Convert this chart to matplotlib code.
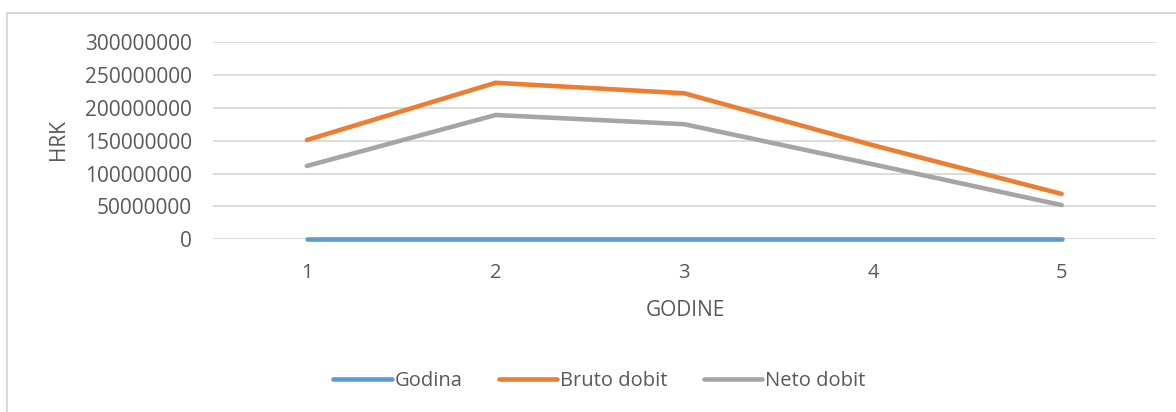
import matplotlib.pyplot as plt
from matplotlib.patches import Rectangle

# data
godine = [1, 2, 3, 4, 5]
godina = [1, 2, 3, 4, 5]
bruto_dobit = [151000000, 238000000, 222000000, 143000000, 69000000]
neto_dobit = [111500000, 189000000, 175000000, 114000000, 52000000]
y_ticks = [0, 50000000, 100000000, 150000000, 200000000, 250000000, 300000000]

text_color = '#595959'
grid_color = '#d9d9d9'
plt.rcParams['font.family'] = ['Open Sans', 'DejaVu Sans']

W, H = 1176, 412
fig = plt.figure(figsize=(W / 100, H / 100), dpi=100)
ax = fig.add_axes([212.6 / W, 1 - 239.3 / H, (1156 - 212.6) / W, (239.3 - 42) / H])

# outer chart border (runs past right/bottom edge of the picture)
fig.patches.append(Rectangle((7 / W, -0.2), 1.2, 1 - 13 / H + 0.2, transform=fig.transFigure,
                             fill=False, edgecolor=grid_color, linewidth=1.4))

ax.plot(godine, godina, color='#5B9BD5', lw=3.3, solid_capstyle='round', label='Godina', clip_on=False)
ax.plot(godine, bruto_dobit, color='#ED7D31', lw=3.3, solid_capstyle='round', label='Bruto dobit', clip_on=False)
ax.plot(godine, neto_dobit, color='#A5A5A5', lw=3.3, solid_capstyle='round', label='Neto dobit', clip_on=False)

ax.set_xlim(0.5, 5.5)
ax.set_ylim(0, 300000000)
ax.set_yticks(y_ticks)
ax.set_yticklabels([str(v) for v in y_ticks])
ax.set_xticks(godine)
ax.set_xticklabels([str(g) for g in godine])

for s in ax.spines.values():
    s.set_visible(False)
ax.grid(axis='y', color=grid_color, linewidth=1.3)
ax.set_axisbelow(True)
ax.tick_params(axis='y', length=0, pad=15, labelsize=15, labelcolor=text_color)
ax.tick_params(axis='x', length=0, pad=17, labelsize=14.5, labelcolor=text_color)

fig.text(685 / W, 1 - 310 / H, 'GODINE', ha='center', va='center', fontsize=15, color=text_color)
fig.text(58 / W, 1 - 140 / H, 'HRK', ha='center', va='center', rotation=90, fontsize=15, color=text_color)

leg = fig.legend(loc='center', bbox_to_anchor=(599.5 / W, 1 - 381 / H), ncol=3, frameon=False,
                 fontsize=14.5, handlelength=2.9, handletextpad=0.15, columnspacing=1.8)
for t in leg.get_texts():
    t.set_color(text_color)
for h in leg.legend_handles:
    h.set_solid_capstyle('round')

plt.savefig('out.png', dpi=100, facecolor='white')
